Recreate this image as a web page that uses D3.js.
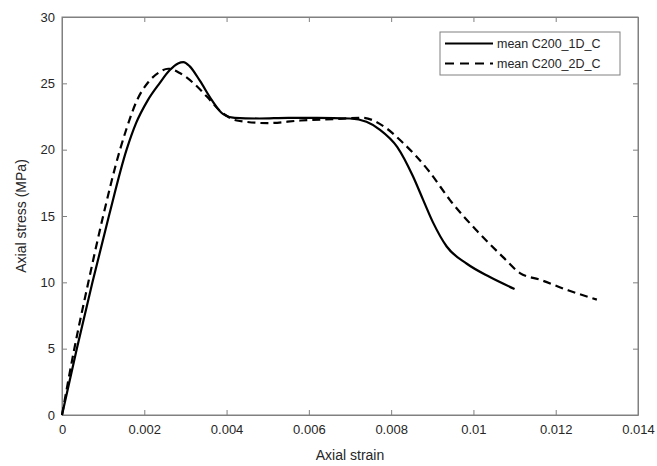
<!DOCTYPE html>
<meta charset="utf-8">
<style>
body { margin: 0; background: #fff; }
text { font-family: "Liberation Sans", Arial, sans-serif; fill: #262626; }
.axis path, .axis line { stroke: #808080; }
.frame { fill: none; stroke: #808080; stroke-width: 1; }
.curve { fill: none; stroke: #000; stroke-width: 2.2; stroke-linejoin: round; }
.dashed { stroke-dasharray: 8 5; }
</style>
<body>
<svg width="657" height="466"></svg>
<script src="https://cdn.jsdelivr.net/npm/d3@7"></script>
<script>

// mean C200_1D_C
let strain1D = [0, 0.00036, 0.00074, 0.00114, 0.00157, 0.00180, 0.00208, 0.00237, 0.00262, 0.00282, 0.00295, 0.00310, 0.00335, 0.00365, 0.00391, 0.00420, 0.0048, 0.0055, 0.0062, 0.00700, 0.00740, 0.00773, 0.00815, 0.00853, 0.00878, 0.00902, 0.00935, 0.00984, 0.01040, 0.0110];
let stress1D = [0, 5, 10, 15, 20, 22, 23.7, 25, 26, 26.5, 26.6, 26.3, 25.2, 23.7, 22.7, 22.4, 22.35, 22.4, 22.4, 22.35, 22.1, 21.5, 20.2, 18.0, 16.2, 14.5, 12.7, 11.4, 10.4, 9.5];

// mean C200_2D_C
let strain2D = [0, 0.0003, 0.00064, 0.001, 0.00141, 0.00156, 0.00182, 0.0021, 0.00235, 0.00258, 0.00285, 0.0032, 0.00352, 0.00385, 0.00425, 0.005, 0.0058, 0.0066, 0.0073, 0.00789, 0.00826, 0.00894, 0.00943, 0.01008, 0.01072, 0.01113, 0.01162, 0.0123, 0.013];
let stress2D = [0, 5, 10, 15, 20, 21.5, 23.7, 25.1, 25.8, 26.1, 25.8, 25.0, 24.0, 22.9, 22.2, 22.0, 22.2, 22.3, 22.4, 21.6, 20.6, 18.3, 16.2, 13.9, 11.9, 10.7, 10.2, 9.4, 8.7];

let xTicks = [0, 0.002, 0.004, 0.006, 0.008, 0.01, 0.012, 0.014];
let yTicks = [0, 5, 10, 15, 20, 25, 30];
let seriesNames = ['mean C200_1D_C', 'mean C200_2D_C'];

let margin = { left: 62, top: 17, right: 19, bottom: 51 };
let width = 657, height = 466;

let svg = d3.select('svg');

let x = d3.scaleLinear().domain([0, 0.014]).range([margin.left, width - margin.right]);
let y = d3.scaleLinear().domain([0, 30]).range([height - margin.bottom, margin.top]);

let fmt = d => d3.format('~g')(d);

// axes (MATLAB style box with inward ticks)
svg.append('g').attr('class', 'axis')
  .attr('transform', `translate(0,${y(0)})`)
  .call(d3.axisBottom(x).tickValues(xTicks).tickFormat(fmt).tickSizeInner(-5).tickSizeOuter(0).tickPadding(10))
  .call(g => g.selectAll('text').attr('font-size', 13));

svg.append('g').attr('class', 'axis')
  .attr('transform', `translate(${x(0)},0)`)
  .call(d3.axisLeft(y).tickValues(yTicks).tickFormat(fmt).tickSizeInner(-5).tickSizeOuter(0).tickPadding(7))
  .call(g => g.selectAll('text').attr('font-size', 13));

svg.append('g').attr('class', 'axis')
  .attr('transform', `translate(0,${y(30)})`)
  .call(d3.axisTop(x).tickValues(xTicks).tickFormat('').tickSizeInner(-5).tickSizeOuter(0));

svg.append('g').attr('class', 'axis')
  .attr('transform', `translate(${x(0.014)},0)`)
  .call(d3.axisRight(y).tickValues(yTicks).tickFormat('').tickSizeInner(-5).tickSizeOuter(0));

svg.append('rect').attr('class', 'frame')
  .attr('x', x(0)).attr('y', y(30))
  .attr('width', x(0.014) - x(0)).attr('height', y(0) - y(30));

// axis labels
svg.append('text')
  .attr('x', (x(0) + x(0.014)) / 2).attr('y', 460)
  .attr('text-anchor', 'middle').attr('font-size', 14)
  .text('Axial strain');

svg.append('text')
  .attr('transform', `translate(26,${(y(0) + y(30)) / 2}) rotate(-90)`)
  .attr('text-anchor', 'middle').attr('font-size', 14)
  .text('Axial stress (MPa)');

// curves
let line = d3.line().x(d => x(d[0])).y(d => y(d[1])).curve(d3.curveMonotoneX);

svg.append('path').attr('class', 'curve')
  .attr('d', line(d3.zip(strain1D, stress1D)));

svg.append('path').attr('class', 'curve dashed')
  .attr('d', line(d3.zip(strain2D, stress2D)));

// legend
let lg = svg.append('g').attr('transform', 'translate(440,32)');
lg.append('rect').attr('width', 180).attr('height', 43)
  .attr('fill', '#fff').attr('stroke', '#808080');
seriesNames.forEach((name, i) => {
  let yy = 11.5 + i * 20;
  lg.append('line').attr('class', 'curve' + (i ? ' dashed' : ''))
    .attr('x1', 5).attr('x2', 53).attr('y1', yy).attr('y2', yy)
    .style('stroke-dasharray', i ? '9 6' : null);
  lg.append('text').attr('x', 57).attr('y', yy).attr('dy', '0.35em')
    .attr('font-size', 12.5).text(name);
});

</script>
</body>
